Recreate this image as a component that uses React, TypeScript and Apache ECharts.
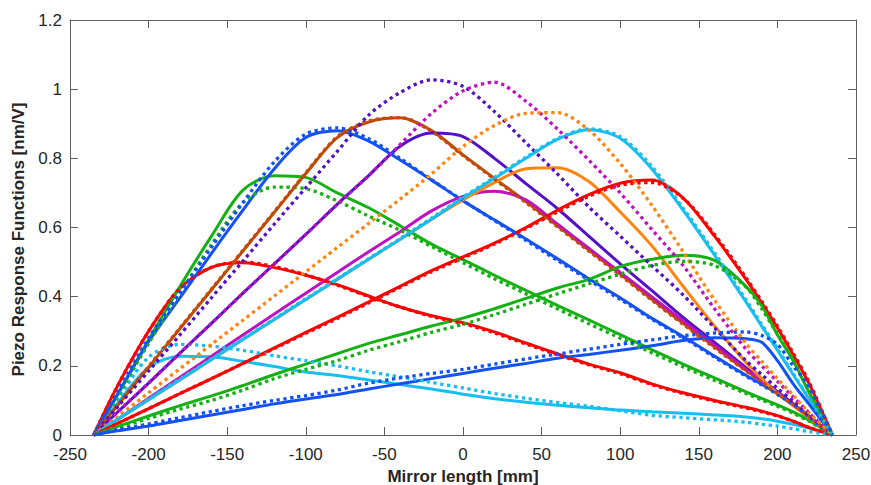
import React, { useEffect, useRef } from "react";
import * as echarts from "echarts";

// Shared x positions along the mirror (mm)
const X = [-235, -220, -200, -180, -160, -140, -120, -100, -80, -60, -40, -20, 0, 20, 40, 60, 80, 100, 120, 140, 160, 180, 190, 200, 210, 220, 235];

// Measured (solid) and model (dotted) piezo response functions, actuators 1..12
const meas1 = [0, 0.09, 0.195, 0.228, 0.226, 0.213, 0.198, 0.182, 0.172, 0.159, 0.146, 0.133, 0.118, 0.105, 0.095, 0.086, 0.079, 0.072, 0.067, 0.063, 0.058, 0.052, 0.047, 0.04, 0.031, 0.02, 0];
const model1 = [0, 0.10, 0.225, 0.262, 0.257, 0.245, 0.229, 0.215, 0.2, 0.183, 0.168, 0.152, 0.136, 0.12, 0.106, 0.094, 0.083, 0.07, 0.057, 0.05, 0.044, 0.037, 0.031, 0.026, 0.018, 0.01, 0];
const meas2 = [0, 0.14, 0.30, 0.425, 0.485, 0.498, 0.484, 0.462, 0.435, 0.402, 0.37, 0.345, 0.325, 0.298, 0.266, 0.235, 0.205, 0.18, 0.148, 0.122, 0.10, 0.08, 0.069, 0.056, 0.04, 0.022, 0];
const model2 = [0, 0.14, 0.30, 0.425, 0.485, 0.5, 0.487, 0.463, 0.433, 0.4, 0.37, 0.343, 0.322, 0.295, 0.263, 0.232, 0.203, 0.177, 0.146, 0.12, 0.098, 0.078, 0.067, 0.055, 0.04, 0.022, 0];
const meas3 = [0, 0.115, 0.275, 0.43, 0.575, 0.708, 0.75, 0.745, 0.70, 0.657, 0.605, 0.552, 0.507, 0.462, 0.418, 0.375, 0.333, 0.29, 0.247, 0.205, 0.165, 0.125, 0.106, 0.087, 0.067, 0.043, 0];
const model3 = [0, 0.11, 0.265, 0.41, 0.55, 0.672, 0.717, 0.712, 0.677, 0.633, 0.592, 0.545, 0.498, 0.452, 0.408, 0.365, 0.322, 0.28, 0.238, 0.197, 0.158, 0.12, 0.101, 0.083, 0.063, 0.04, 0];
const meas4 = [0, 0.115, 0.27, 0.397, 0.525, 0.65, 0.77, 0.86, 0.88, 0.85, 0.795, 0.737, 0.677, 0.622, 0.567, 0.51, 0.452, 0.397, 0.338, 0.285, 0.228, 0.173, 0.147, 0.12, 0.09, 0.055, 0];
const model4 = [0, 0.122, 0.28, 0.412, 0.543, 0.672, 0.79, 0.87, 0.888, 0.857, 0.80, 0.738, 0.678, 0.62, 0.563, 0.505, 0.448, 0.392, 0.335, 0.282, 0.225, 0.17, 0.145, 0.117, 0.088, 0.053, 0];
const meas5 = [0, 0.084, 0.196, 0.308, 0.42, 0.532, 0.644, 0.756, 0.86, 0.905, 0.917, 0.88, 0.81, 0.742, 0.675, 0.605, 0.535, 0.465, 0.393, 0.323, 0.255, 0.187, 0.155, 0.122, 0.09, 0.055, 0];
const model5 = [0, 0.086, 0.198, 0.31, 0.422, 0.534, 0.646, 0.758, 0.862, 0.908, 0.918, 0.878, 0.808, 0.74, 0.672, 0.602, 0.532, 0.462, 0.39, 0.32, 0.252, 0.185, 0.153, 0.12, 0.088, 0.053, 0];
const meas6 = [0, 0.065, 0.15, 0.237, 0.323, 0.41, 0.495, 0.58, 0.667, 0.75, 0.835, 0.873, 0.863, 0.80, 0.727, 0.655, 0.575, 0.495, 0.418, 0.34, 0.268, 0.195, 0.16, 0.125, 0.09, 0.052, 0];
const model6 = [0, 0.08, 0.185, 0.29, 0.397, 0.503, 0.61, 0.715, 0.82, 0.925, 0.99, 1.027, 1.008, 0.935, 0.845, 0.755, 0.66, 0.575, 0.49, 0.405, 0.31, 0.215, 0.175, 0.135, 0.098, 0.058, 0];
const meas7 = [0, 0.045, 0.106, 0.167, 0.228, 0.289, 0.35, 0.41, 0.47, 0.53, 0.588, 0.648, 0.69, 0.705, 0.68, 0.61, 0.54, 0.47, 0.40, 0.33, 0.26, 0.19, 0.157, 0.122, 0.088, 0.052, 0];
const model7 = [0, 0.065, 0.15, 0.237, 0.323, 0.41, 0.495, 0.58, 0.667, 0.75, 0.84, 0.93, 0.995, 1.02, 0.965, 0.885, 0.795, 0.70, 0.595, 0.49, 0.365, 0.248, 0.2, 0.155, 0.11, 0.065, 0];
const meas8 = [0, 0.044, 0.102, 0.16, 0.218, 0.276, 0.334, 0.392, 0.45, 0.508, 0.566, 0.624, 0.68, 0.73, 0.77, 0.773, 0.733, 0.645, 0.548, 0.43, 0.315, 0.21, 0.163, 0.12, 0.085, 0.05, 0];
const model8 = [0, 0.052, 0.122, 0.192, 0.262, 0.332, 0.402, 0.472, 0.542, 0.612, 0.682, 0.755, 0.834, 0.895, 0.93, 0.932, 0.882, 0.785, 0.665, 0.53, 0.39, 0.265, 0.213, 0.163, 0.115, 0.065, 0];
const meas9 = [0, 0.044, 0.102, 0.16, 0.218, 0.276, 0.334, 0.392, 0.45, 0.508, 0.566, 0.624, 0.685, 0.742, 0.80, 0.855, 0.883, 0.858, 0.77, 0.65, 0.52, 0.385, 0.315, 0.245, 0.175, 0.105, 0];
const model9 = [0, 0.045, 0.104, 0.162, 0.22, 0.278, 0.336, 0.394, 0.452, 0.51, 0.568, 0.627, 0.688, 0.745, 0.803, 0.857, 0.885, 0.863, 0.777, 0.656, 0.527, 0.391, 0.32, 0.25, 0.178, 0.107, 0];
const meas10 = [0, 0.033, 0.076, 0.12, 0.163, 0.207, 0.252, 0.297, 0.34, 0.385, 0.43, 0.475, 0.515, 0.555, 0.60, 0.65, 0.695, 0.728, 0.737, 0.685, 0.575, 0.45, 0.382, 0.31, 0.232, 0.15, 0];
const model10 = [0, 0.033, 0.076, 0.12, 0.163, 0.207, 0.25, 0.294, 0.337, 0.382, 0.427, 0.472, 0.512, 0.552, 0.597, 0.645, 0.69, 0.722, 0.73, 0.685, 0.58, 0.455, 0.387, 0.315, 0.237, 0.155, 0];
const meas11 = [0, 0.024, 0.055, 0.085, 0.113, 0.143, 0.175, 0.205, 0.235, 0.265, 0.29, 0.315, 0.338, 0.365, 0.395, 0.425, 0.45, 0.487, 0.508, 0.52, 0.505, 0.43, 0.375, 0.29, 0.215, 0.125, 0];
const model11 = [0, 0.02, 0.048, 0.075, 0.1, 0.13, 0.163, 0.19, 0.215, 0.245, 0.27, 0.297, 0.32, 0.348, 0.378, 0.408, 0.437, 0.465, 0.49, 0.502, 0.49, 0.428, 0.365, 0.292, 0.218, 0.128, 0];
const meas12 = [0, 0.012, 0.026, 0.042, 0.058, 0.074, 0.09, 0.104, 0.117, 0.133, 0.148, 0.163, 0.178, 0.193, 0.207, 0.222, 0.233, 0.245, 0.258, 0.273, 0.281, 0.278, 0.268, 0.215, 0.148, 0.09, 0];
const model12 = [0, 0.015, 0.032, 0.05, 0.068, 0.085, 0.1, 0.114, 0.13, 0.15, 0.165, 0.178, 0.19, 0.205, 0.22, 0.234, 0.248, 0.262, 0.275, 0.287, 0.295, 0.298, 0.288, 0.262, 0.2, 0.14, 0];

const X_TICKS = { min: -250, max: 250, interval: 50 };
const Y_TICKS = { min: 0, max: 1.2, interval: 0.2 };

const C_CYAN = "#17BEEF";
const C_RED = "#FF0000";
const C_GREEN = "#14B014";
const C_BLUE = "#1252F5";
const C_BROWN = "#C24A06";
const C_PURPLE = "#5410C4";
const C_MAGENTA = "#C010C0";
const C_ORANGE = "#FF8410";

const MEAS = [meas1, meas2, meas3, meas4, meas5, meas6, meas7, meas8, meas9, meas10, meas11, meas12];
const MODEL = [model1, model2, model3, model4, model5, model6, model7, model8, model9, model10, model11, model12];
const COLORS = [C_CYAN, C_RED, C_GREEN, C_BLUE, C_BROWN, C_PURPLE, C_MAGENTA, C_ORANGE, C_CYAN, C_RED, C_GREEN, C_BLUE];

export default function App() {
  const ref = useRef<HTMLDivElement>(null);
  useEffect(() => {
    if (!ref.current) return;
    const chart = echarts.init(ref.current, null, { renderer: "svg" });
    const axisColor = "#606060";
    const labelColor = "#262626";
    const font = "'Liberation Sans', Arial, sans-serif";
    const toPts = (vals: number[]) => X.map((x, i) => [x, vals[i]]);
    const series: any[] = [];
    MEAS.forEach((vals, i) => {
      series.push({
        type: "line",
        name: "meas" + (i + 1),
        data: toPts(vals),
        showSymbol: false,
        smooth: 0.3,
        lineStyle: { color: COLORS[i], width: 3 },
        itemStyle: { color: COLORS[i] },
        silent: true,
      });
    });
    MODEL.forEach((vals, i) => {
      series.push({
        type: "line",
        name: "model" + (i + 1),
        data: toPts(vals),
        showSymbol: false,
        smooth: 0.3,
        lineStyle: { color: COLORS[i], width: 3.3, type: [3.3, 3.6], cap: "butt" },
        itemStyle: { color: COLORS[i] },
        silent: true,
      });
    });
    const common = {
      axisLine: { show: true, onZero: false, lineStyle: { color: axisColor, width: 1 } },
      axisTick: { show: true, inside: true, length: 8, lineStyle: { color: axisColor, width: 1 } },
      splitLine: { show: false },
    };
    chart.setOption({
      animation: false,
      backgroundColor: "#ffffff",
      grid: { left: 70, right: 15, top: 20, bottom: 50, containLabel: false, outerBoundsMode: "none" },
      xAxis: [
        {
          type: "value",
          ...X_TICKS,
          position: "bottom",
          ...common,
          axisLabel: { color: labelColor, fontSize: 17, fontFamily: font, margin: 11 },
          name: "Mirror length [mm]",
          nameLocation: "middle",
          nameGap: 30,
          nameTextStyle: { color: labelColor, fontSize: 17, fontWeight: "bold", fontFamily: font },
        },
        {
          type: "value",
          ...X_TICKS,
          position: "top",
          ...common,
          axisLabel: { show: false },
        },
      ],
      yAxis: [
        {
          type: "value",
          ...Y_TICKS,
          position: "left",
          ...common,
          axisLabel: { color: labelColor, fontSize: 17, fontFamily: font, margin: 8 },
          name: "Piezo Response Functions [nm/V]",
          nameLocation: "middle",
          nameGap: 41,
          nameTextStyle: {
            color: labelColor,
            fontSize: 17,
            fontWeight: "bold",
            fontFamily: font,
            padding: [0, 24, 0, 0],
          },
        },
        {
          type: "value",
          ...Y_TICKS,
          position: "right",
          ...common,
          axisLabel: { show: false },
        },
      ],
      series,
    });
    return () => chart.dispose();
  }, []);
  return (
    <div
      ref={ref}
      style={{ position: "fixed", left: 0, top: 0, width: 871, height: 485, background: "#fff" }}
    />
  );
}
